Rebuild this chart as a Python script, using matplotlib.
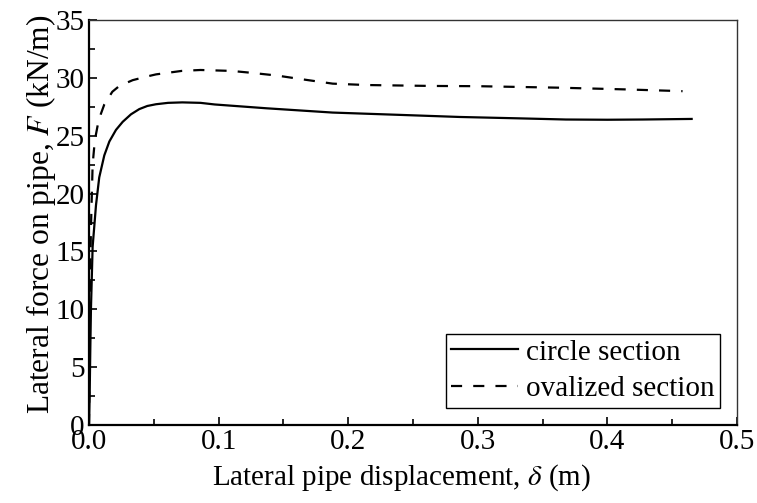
import matplotlib
matplotlib.use("Agg")
import matplotlib.pyplot as plt
from matplotlib.ticker import MultipleLocator, FormatStrFormatter

plt.rcParams['font.family'] = ['Liberation Serif', 'DejaVu Serif']
plt.rcParams['mathtext.fontset'] = 'stix'

circle_d = [0, 0.0005, 0.001, 0.0015, 0.0028, 0.0054, 0.0079, 0.0118, 0.0157, 0.0208,
            0.026, 0.0324, 0.0388, 0.045, 0.0517, 0.061, 0.072, 0.086, 0.097, 0.137,
            0.188, 0.24, 0.286, 0.332, 0.368, 0.40, 0.427, 0.465]
circle_F = [0, 2.5, 6.5, 10.0, 15.4, 19.0, 21.4, 23.3, 24.5, 25.5,
            26.2, 26.85, 27.3, 27.57, 27.72, 27.84, 27.88, 27.84, 27.7, 27.37,
            27.0, 26.8, 26.62, 26.5, 26.4, 26.38, 26.4, 26.45]

oval_d = [0, 0.0005, 0.001, 0.0015, 0.0028, 0.0045, 0.0067, 0.0092, 0.0118, 0.018,
          0.0234, 0.0337, 0.044, 0.0517, 0.0715, 0.086, 0.11, 0.124, 0.145, 0.163,
          0.188, 0.214, 0.265, 0.30, 0.363, 0.4146, 0.458]
oval_F = [0, 8.0, 13.5, 17.0, 22.5, 24.6, 25.9, 26.9, 27.7, 28.8,
          29.3, 29.8, 30.1, 30.3, 30.6, 30.68, 30.6, 30.45, 30.2, 29.9,
          29.5, 29.38, 29.3, 29.28, 29.15, 29.0, 28.85]

fig = plt.figure(figsize=(7.57, 5.03), dpi=100)
ax = fig.add_axes([89/757, 1-425/503, (737-89)/757, (425-20)/503])

ax.plot(circle_d, circle_F, color='black', lw=1.6, label='circle section')
ax.plot(oval_d, oval_F, color='black', lw=1.6, dashes=(5, 5), label='ovalized section')

ax.set_xlim(0, 0.5)
ax.set_ylim(0, 35)
ax.xaxis.set_major_locator(MultipleLocator(0.1))
ax.xaxis.set_minor_locator(MultipleLocator(0.05))
ax.yaxis.set_major_locator(MultipleLocator(5))
ax.yaxis.set_minor_locator(MultipleLocator(2.5))
ax.xaxis.set_major_formatter(FormatStrFormatter('%.1f'))
ax.tick_params(which='both', direction='in', top=False, right=False, labelsize=21, width=1.2, pad=3)
ax.tick_params(which='major', length=6)
ax.tick_params(which='minor', length=4)
for s in ['left', 'bottom']:
    ax.spines[s].set_linewidth(1.6)
for s in ['top', 'right']:
    ax.spines[s].set_linewidth(1.0)
    ax.spines[s].set_color('#333333')

ax.set_xlabel(r'Lateral pipe displacement, $\delta$ (m)', fontsize=21)
ax.xaxis.set_label_coords((401-89)/648, -0.092)
ax.set_ylabel(r'Lateral force on pipe, $F$ (kN/m)', fontsize=22.7)
ax.yaxis.set_label_coords(-0.048, 0.52)

leg = ax.legend(loc='lower right', fontsize=21, frameon=True, fancybox=False,
                edgecolor='black', framealpha=1, handlelength=2.3, handletextpad=0.25,
                borderpad=0.18, labelspacing=0.35, borderaxespad=0.6)
leg.get_frame().set_linewidth(1.0)

fig.savefig('out.png', dpi=100)
